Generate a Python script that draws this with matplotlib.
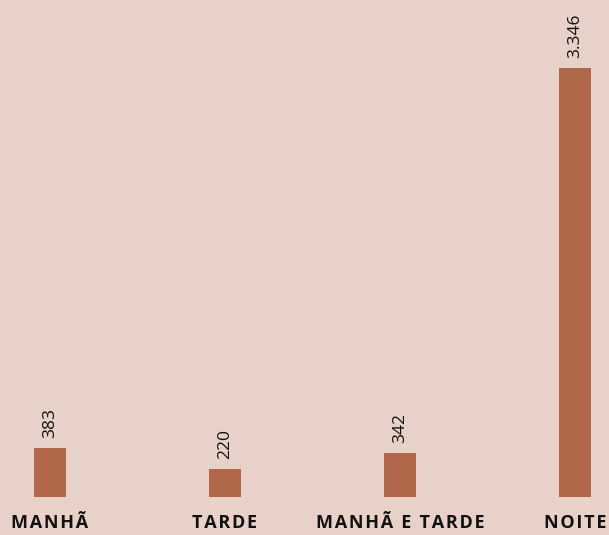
import matplotlib.pyplot as plt

# turnos e numero de registros
turnos = ['MANHÃ', 'TARDE', 'MANHÃ E TARDE', 'NOITE']
valores = [383, 220, 342, 3346]
rotulos = ['383', '220', '342', '3.346']

fundo = '#E8D1C9'
cor_barra = '#B0674A'

fig = plt.figure(figsize=(6.09, 5.35), dpi=100, facecolor=fundo)
ax = fig.add_axes([0, 0, 1, 1], facecolor=fundo)

pos = list(range(len(turnos)))
ax.bar(pos, valores, width=0.185, color=cor_barra, zorder=2)

for x, v, r in zip(pos, valores, rotulos):
    ax.annotate(r, (x, v), xytext=(0, 7), textcoords='offset points',
                rotation=90, ha='center', va='bottom', fontsize=12.5,
                family=['Open Sans', 'DejaVu Sans'], color='#111111')

# nomes dos turnos com espacamento entre letras
esp = '\u200a'
for x, t in zip(pos, turnos):
    txt = esp.join(t)
    ax.text(x, -26 * 7.8, txt, ha='center', va='center', fontsize=13,
            fontweight='bold', family=['Open Sans', 'DejaVu Sans'], color='#111111')

ax.set_xlim(-50 / 175, 559 / 175)
ax.set_ylim(-38 * 7.8, 3346 + 68 * 7.8)
ax.axis('off')

fig.savefig('out.png', facecolor=fundo)
